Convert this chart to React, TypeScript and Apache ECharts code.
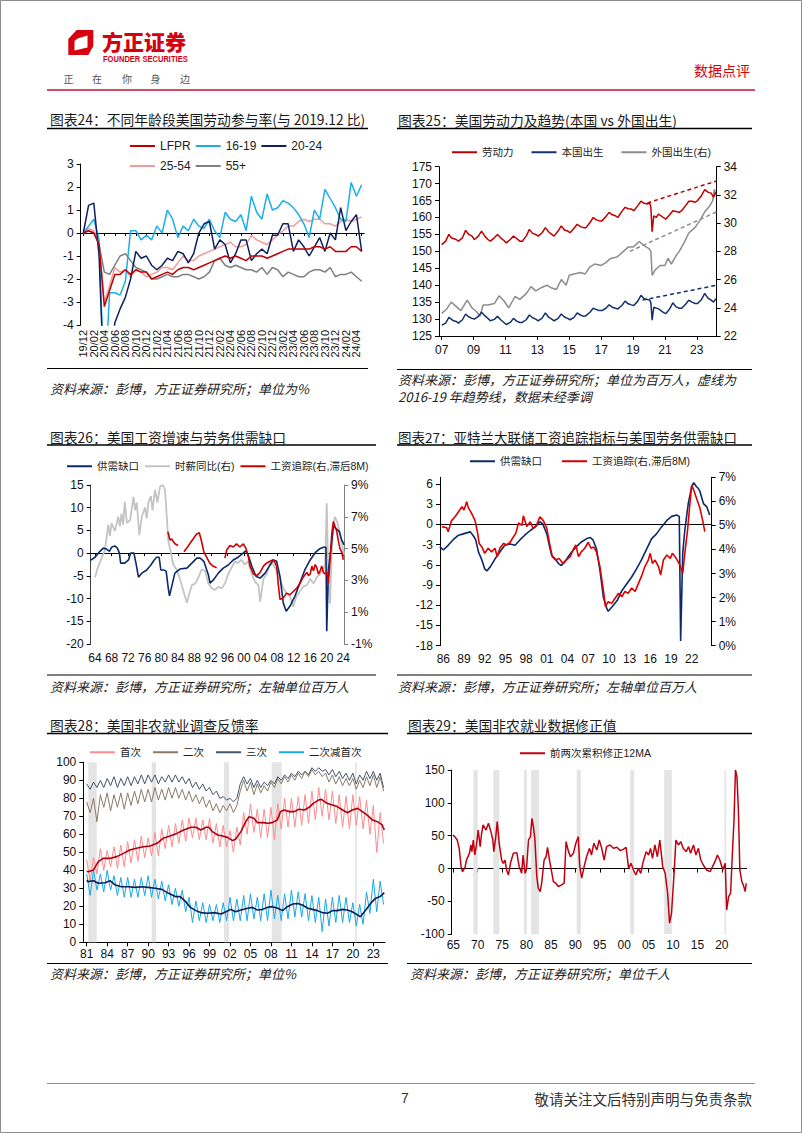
import React, { useEffect, useRef } from "react";
import * as echarts from "echarts";

// ---------------- Chart 24 ----------------
const c24Months = [
  "19/12",
  "20/01","20/02","20/03","20/04","20/05","20/06","20/07","20/08","20/09","20/10","20/11","20/12",
  "21/01","21/02","21/03","21/04","21/05","21/06","21/07","21/08","21/09","21/10","21/11","21/12",
  "22/01","22/02","22/03","22/04","22/05","22/06","22/07","22/08","22/09","22/10","22/11","22/12",
  "23/01","23/02","23/03","23/04","23/05","23/06","23/07","23/08","23/09","23/10","23/11","23/12",
  "24/01","24/02","24/03","24/04","24/05",
];
const c24LFPR = [0,
  0.1, 0, -0.5, -3.2, -2.5, -1.8, -1.8, -1.6, -1.8, -1.6, -1.7, -1.7,
  -2.0, -1.9, -1.8, -1.7, -1.8, -1.6, -1.5, -1.5, -1.6, -1.5, -1.4, -1.3,
  -1.2, -1.1, -1.0, -1.1, -1.0, -1.1, -1.2, -1.0, -1.0, -1.0, -1.1, -1.0,
  -0.9, -0.8, -0.7, -0.7, -0.7, -0.7, -0.7, -0.6, -0.6, -0.7, -0.6, -0.8,
  -0.8, -0.8, -0.6, -0.6, -0.8];
const c24Teen = [0,
  0.3, 0.6, -0.3, -7.0, -2.6, -2.6, -2.7, -2.1, 0.1, 0.1, -0.3, -0.1,
  -0.3, 0.3, 0.0, 1.0, 0.6, -0.2, 0.3, 0.1, 0.6, 0.3, 0.2, 0.6,
  0.1, -0.2, 0.9, 0.6, 0.5, 0.8, 0.1, 1.6, 0.9, 0.6, 1.7, 1.0,
  1.1, 1.4, 1.3, 1.1, 0.8, 0.4, -0.2, 1.0, 0.6, 1.9, 1.5, 1.1,
  0.6, 0.5, 2.2, 1.6, 2.1];
const c24Young = [0,
  1.2, 1.3, -1.0, -7.0, -6.0, -3.9, -3.3, -2.8, -2.0, -0.8, -1.1, -1.0,
  -1.4, -1.6, -1.4, -1.1, -1.2, -0.8, -0.9, -1.3, -0.9, 0.0, 0.4, 0.5,
  -0.7, -0.3, -0.5, -1.3, -0.9, -0.3, -0.3, -1.2, -0.9, -0.7, -0.9, -0.1,
  -0.1, 0.4, 0.4, -0.8, -0.3, -0.6, -1.0, -0.6, -0.2, -0.8, 0.0, -0.3,
  1.1, 0.1, 0.5, 0.8, -0.8];
const c24Prime = [0,
  0.2, 0.1, -0.5, -3.0, -2.3, -1.5, -1.7, -1.6, -1.9, -1.6, -1.7, -1.9,
  -1.8, -1.7, -1.5, -1.5, -1.6, -1.3, -1.0, -1.2, -1.2, -1.0, -0.9, -0.8,
  -0.7, -0.6, -0.5, -0.4, -0.6, -0.6, -0.5, -0.1, -0.3, -0.4, -0.5, -0.3,
  -0.1, 0.1, 0.3, 0.3, 0.5, 0.6, 0.5, 0.6, 0.6, 0.4, 0.4, 0.3,
  0.5, 0.6, 0.5, 0.6, 0.7];
const c24Old = [0,
  0.1, 0.0, -0.5, -1.7, -1.8, -1.4, -1.0, -0.9, -1.2, -1.5, -1.6, -1.7,
  -2.0, -2.0, -1.9, -1.8, -1.9, -1.9, -1.8, -1.8, -1.9, -2.0, -1.9, -1.7,
  -1.2, -1.1, -1.4, -1.5, -1.4, -1.5, -1.6, -1.6, -1.7, -1.5, -1.8, -1.5,
  -1.6, -1.9, -1.7, -1.8, -1.9, -1.9, -1.7, -1.6, -1.6, -1.7, -1.5, -1.9,
  -1.8, -1.8, -1.7, -1.9, -2.1];

// ---------------- Chart 25 ----------------
const c25Ticks = [2007, 2009, 2011, 2013, 2015, 2017, 2019, 2021, 2023];
const c25Labor = [
  [2007.0,152],[2007.25,153],[2007.45,155],[2007.6,154],[2007.9,153.5],
  [2008.05,153],[2008.3,154],[2008.5,156.2],[2008.7,155],[2008.9,154.5],
  [2009.05,153.5],[2009.3,154.5],[2009.5,156],[2009.7,154.5],[2009.9,153.5],
  [2010.05,153],[2010.3,154],[2010.5,155],[2010.7,154],[2010.9,153.2],
  [2011.05,152.5],[2011.3,153.5],[2011.5,154.5],[2011.7,153.8],[2011.9,153],
  [2012.05,153],[2012.3,154.5],[2012.5,156.5],[2012.7,155.3],[2012.9,155],
  [2013.05,154.5],[2013.3,155.5],[2013.5,157],[2013.7,155.8],[2013.9,155],
  [2014.05,154.5],[2014.3,156],[2014.5,157.5],[2014.7,156.3],[2014.9,156],
  [2015.05,155.5],[2015.3,156.8],[2015.5,158],[2015.7,157.3],[2015.9,157],
  [2016.05,157],[2016.3,158.5],[2016.5,160],[2016.7,159.3],[2016.9,159],
  [2017.05,159],[2017.3,160.3],[2017.5,161.5],[2017.7,160.8],[2017.9,160.5],
  [2018.05,160],[2018.3,161.8],[2018.5,163],[2018.7,162.6],[2018.9,162.5],
  [2019.05,162],[2019.3,163.5],[2019.5,164.8],[2019.7,164.2],[2019.9,164],
  [2020.05,164.3],[2020.12,163],[2020.2,155.8],[2020.3,160.5],[2020.45,160],[2020.6,161],[2020.9,160],
  [2021.05,159.5],[2021.3,160.8],[2021.5,162],[2021.7,161.8],[2021.9,161.5],
  [2022.05,162],[2022.3,163.5],[2022.5,164.8],[2022.7,164.8],[2022.9,164.5],
  [2023.05,165],[2023.3,166.5],[2023.5,168.2],[2023.7,167.5],[2023.9,167.2],
  [2024.05,166],[2024.2,167.5],
];
const c25Native = [
  [2007.0,128.2],[2007.25,128.8],[2007.45,130.5],[2007.7,129.6],[2007.9,129.3],
  [2008.05,128.8],[2008.3,129.8],[2008.5,131.5],[2008.7,130.6],[2008.9,130.2],
  [2009.05,130],[2009.3,130.8],[2009.5,132],[2009.7,131],[2009.9,130.2],
  [2010.05,129.5],[2010.3,129.9],[2010.5,130.8],[2010.7,129.8],[2010.9,129],
  [2011.05,128.4],[2011.3,129],[2011.5,130.2],[2011.7,129.4],[2011.9,129],
  [2012.05,129],[2012.3,129.8],[2012.5,131.2],[2012.7,130.4],[2012.9,130],
  [2013.05,129.5],[2013.3,130.3],[2013.5,131.8],[2013.7,130.6],[2013.9,130],
  [2014.05,129.5],[2014.3,130.2],[2014.5,131.5],[2014.7,130.6],[2014.9,130.2],
  [2015.05,129.8],[2015.3,130.5],[2015.5,131.8],[2015.7,131.2],[2015.9,130.8],
  [2016.05,131],[2016.3,132],[2016.5,133.2],[2016.7,132.8],[2016.9,132.5],
  [2017.05,132.5],[2017.3,133.2],[2017.5,134.2],[2017.7,133.5],[2017.9,133.2],
  [2018.05,133],[2018.3,134],[2018.5,135.3],[2018.7,134.5],[2018.9,134.2],
  [2019.05,134],[2019.3,135.3],[2019.5,137],[2019.7,136],[2019.9,135.8],
  [2020.05,135.6],[2020.12,134.8],[2020.2,129.7],[2020.3,133.5],[2020.6,133],[2020.9,132],
  [2021.05,131.6],[2021.3,133],[2021.5,134.8],[2021.7,133.6],[2021.9,133.2],
  [2022.05,133.2],[2022.3,134.4],[2022.5,135.6],[2022.7,135],[2022.9,134.6],
  [2023.05,134.6],[2023.3,135.8],[2023.5,137.6],[2023.7,136.2],[2023.9,135.6],
  [2024.05,135],[2024.2,136],
];
const c25Foreign = [
  [2007.0,23.6],[2007.3,23.9],[2007.6,24.4],[2007.9,24.1],
  [2008.2,23.8],[2008.6,24.55],[2008.9,24.0],
  [2009.2,23.7],[2009.4,23.4],[2009.6,24.2],[2009.9,24.2],
  [2010.3,24.3],[2010.6,24.85],[2010.9,24.5],
  [2011.2,24.0],[2011.6,24.8],[2011.9,24.6],
  [2012.3,25.0],[2012.6,25.5],[2012.9,25.2],
  [2013.2,25.4],[2013.6,25.6],[2013.9,25.4],
  [2014.2,25.3],[2014.5,26.0],[2014.8,25.6],
  [2015.0,26.3],[2015.3,26.4],[2015.7,26.5],
  [2016.0,26.4],[2016.3,26.9],[2016.6,27.1],
  [2017.0,27.0],[2017.3,27.2],[2017.6,27.5],
  [2018.0,27.6],[2018.4,28.0],[2018.7,28.3],
  [2019.0,28.3],[2019.4,28.7],[2019.7,28.4],
  [2020.0,28.2],[2020.12,28.0],[2020.2,26.3],[2020.4,26.7],[2020.7,27.0],
  [2021.0,27.0],[2021.2,27.5],[2021.4,27.1],[2021.7,27.7],[2021.9,28.0],
  [2022.2,28.6],[2022.5,29.3],[2022.9,29.7],
  [2023.2,30.2],[2023.5,30.8],[2023.8,31.2],
  [2024.0,31.6],[2024.1,32.4],[2024.2,32.0],
];
const c25LaborTrend = [[2019.9,164.3],[2024.25,170.8]];
const c25NativeTrend = [[2019.6,135.6],[2024.25,140]];
const c25ForeignTrend = [[2018.8,28.0],[2024.25,30.8]];

// ---------------- Chart 26 ----------------
const c26Ticks = [1964,1968,1972,1976,1980,1984,1988,1992,1996,2000,2004,2008,2012,2016,2020,2024];
const c26Gap = [
  [1962.9,-1.6],[1964.0,-0.9],[1965.2,0.4],[1966.0,1.1],[1966.8,0.9],[1967.5,0.4],[1968.0,1.3],[1968.8,1.6],
  [1969.4,1.1],[1969.9,0],[1970.2,-2.2],[1971.2,-2.2],[1972.1,-1.5],[1972.6,0],[1973.4,0],[1973.9,-2.2],
  [1974.5,-5.3],[1975.3,-4.4],[1976.5,-3.7],[1977.5,-2.6],[1978.3,-1.5],[1978.9,-0.9],[1979.5,-0.9],[1979.9,-3.7],
  [1980.7,-3.7],[1981.2,-4.0],[1981.7,-7.7],[1982.0,-9.4],[1983.3,-4.4],[1984.5,-3.5],[1986.2,-3.3],[1987.4,-2.2],
  [1988.6,-1.1],[1989.4,-1.1],[1990.3,-1.8],[1991.4,-4.8],[1991.8,-6.6],[1992.6,-5.9],[1993.8,-4.4],[1995.0,-3.3],
  [1996.2,-2.6],[1997.4,-1.5],[1998.6,-0.9],[1999.8,0],[2000.4,0.5],[2001.0,-0.4],[2001.9,-2.9],[2002.9,-5.1],
  [2003.9,-5.5],[2005.1,-4.4],[2006.3,-2.6],[2007.1,-1.5],[2007.9,-1.8],[2008.7,-5.1],[2009.5,-11],[2010.2,-12.8],
  [2011.1,-11.7],[2012.3,-9.5],[2013.5,-6.6],[2014.7,-3.7],[2016.0,-1.5],[2017.2,0.1],[2018.2,0.9],[2019.2,1.3],
  [2019.8,1.3],[2020.0,-17.2],[2020.4,-3.7],[2021.0,0.7],[2021.6,5.9],[2022.4,5.3],[2023.0,4.8],[2023.6,2.9],[2024.2,1.8],
];
const c26Wage = [
  [1964.0,3.2],[1964.8,3.9],[1965.6,4.4],[1966.4,4.9],[1967.2,6.5],[1967.6,5.8],[1968.0,6.6],[1968.8,6.1],
  [1969.6,7.0],[1970.0,6.4],[1970.4,7.2],[1970.8,6.5],[1971.2,7.95],[1971.7,6.6],[1972.5,6.8],[1973.3,8.26],
  [1973.7,7.4],[1974.1,7.9],[1974.7,5.85],[1975.3,7.0],[1976.1,7.6],[1976.5,6.9],[1976.9,7.9],[1977.5,8.3],
  [1977.9,7.4],[1978.5,8.7],[1979.1,7.9],[1979.7,8.9],[1980.4,9.0],[1980.9,8.7],[1981.3,7.2],[1981.7,5.5],
  [1982.3,4.8],[1982.9,4.0],[1983.7,3.7],[1984.5,3.1],[1985.3,2.4],[1986.2,1.6],[1986.6,2.0],[1987.4,2.7],
  [1988.2,2.8],[1989.0,3.2],[1989.8,3.7],[1990.6,3.6],[1991.4,2.8],[1992.2,2.5],[1993.0,2.4],[1993.8,2.6],
  [1994.6,2.5],[1995.4,2.8],[1996.2,3.4],[1997.0,3.8],[1997.8,4.2],[1998.6,4.1],[1999.4,4.3],[2000.2,4.0],
  [2001.0,4.2],[2001.9,3.4],[2002.7,2.9],[2003.5,2.7],[2003.9,1.66],[2004.7,3.1],[2005.5,3.4],[2006.3,4.1],
  [2007.1,4.0],[2007.9,3.6],[2008.7,3.1],[2009.5,2.5],[2010.3,2.2],[2011.1,2.0],[2011.9,1.35],[2012.7,2.0],
  [2013.5,2.3],[2014.3,2.6],[2015.2,2.7],[2016.0,3.1],[2016.8,2.8],[2017.6,3.2],[2018.4,3.4],[2019.2,3.7],
  [2019.6,4.0],[2020.0,7.85],[2020.4,2.8],[2020.8,1.55],[2021.2,4.7],[2021.6,6.6],[2022.0,7.0],[2022.6,6.6],
  [2023.2,6.0],[2023.6,5.4],[2024.2,4.6],
];
const c26Tracker = [
  [1981.6,6.07],[1982.1,5.54],[1982.5,5.6],[1983.3,5.3],[1984.1,5.2],[1984.2,null],
  [1985.5,4.8],[1986.1,5.0],[1986.9,5.3],[1987.7,5.6],[1988.5,5.9],[1989.2,6.0],[1989.8,5.4],[1990.3,4.8],
  [1990.9,4.5],[1991.7,4.1],[1992.5,3.9],[1993.4,3.8],[1993.5,null],
  [1995.4,4.4],[1995.8,4.9],[1996.6,5.2],[1997.4,5.1],[1998.2,5.3],[1999.0,5.1],[1999.85,5.3],[2000.5,5.0],
  [2001.05,4.5],[2001.46,3.9],[2002.3,3.4],[2003.1,3.3],[2003.9,3.5],[2004.7,3.9],[2005.5,4.1],[2006.3,4.2],
  [2007.1,4.3],[2007.9,3.9],[2008.3,2.7],[2008.7,1.8],[2009.5,1.9],[2010.3,2.2],[2011.1,2.1],[2011.9,2.3],
  [2012.7,2.5],[2013.5,2.8],[2014.3,3.2],[2015.2,3.5],[2015.6,3.3],[2016.0,3.4],[2016.4,3.9],[2016.8,3.6],
  [2017.2,4.0],[2017.6,3.8],[2018.0,3.4],[2018.4,3.6],[2018.8,3.9],[2019.2,3.5],[2019.6,3.4],[2020.0,3.5],
  [2020.4,2.8],[2020.8,4.3],[2021.2,5.9],[2021.6,6.7],[2022.0,6.4],[2022.4,6.1],[2022.8,5.5],[2023.2,5.0],
  [2023.6,4.8],[2024.0,4.3],
];

// ---------------- Chart 27 ----------------
const c27Ticks = [1986,1989,1992,1995,1998,2001,2004,2007,2010,2013,2016,2019,2022];
const c27Gap = [
  [1985.5,-3.3],[1986.0,-3.8],[1986.7,-3.1],[1987.4,-2.3],[1988.2,-1.6],[1988.9,-1.4],[1989.9,-1.1],[1990.3,-1.6],
  [1990.7,-2.3],[1991.1,-4.1],[1991.6,-5.3],[1992.0,-6.6],[1992.3,-6.9],[1992.8,-6.3],[1993.5,-5.1],[1994.2,-4.1],
  [1994.9,-3.1],[1995.7,-2.9],[1996.4,-3.1],[1997.1,-2.3],[1997.8,-1.6],[1998.6,-0.9],[1999.3,-0.4],[2000.0,0.4],
  [2000.4,0.1],[2001.0,-1.4],[2001.4,-3.3],[2001.7,-4.6],[2002.2,-5.1],[2002.7,-5.8],[2003.1,-6.1],[2003.6,-5.6],
  [2004.1,-4.8],[2004.6,-4.1],[2005.3,-3.3],[2006.0,-2.6],[2006.8,-2.1],[2007.3,-1.95],[2007.7,-2.3],[2008.2,-3.6],
  [2008.7,-6.8],[2009.2,-10.8],[2009.7,-12.5],[2009.9,-12.9],[2010.4,-12.3],[2011.2,-11.3],[2011.9,-9.8],[2012.6,-8.8],
  [2013.3,-7.8],[2014.0,-6.6],[2014.7,-5.3],[2015.5,-3.6],[2016.2,-2.1],[2016.9,-1.4],[2017.6,-0.4],[2018.4,0.6],
  [2019.1,1.2],[2019.8,1.4],[2020.2,1.2],[2020.4,-17.3],[2020.7,-4.3],[2021.0,-0.9],[2021.5,3.1],[2022.0,5.6],
  [2022.3,6.2],[2022.7,5.6],[2023.0,5.3],[2023.2,4.9],[2023.7,3.1],[2024.2,2.6],[2024.6,1.4],
];
const c27Tracker = [
  [1985.8,4.95],[1986.5,4.9],[1986.7,4.74],[1987.2,5.2],[1987.7,5.36],[1988.2,5.57],[1988.7,5.78],[1989.0,5.64],
  [1989.4,5.99],[1989.6,5.75],[1990.1,5.5],[1990.6,5.2],[1990.9,4.8],[1991.2,4.25],[1991.6,4.1],[1992.0,3.84],
  [1992.5,4.05],[1993.0,3.9],[1993.5,4.05],[1993.8,3.7],[1994.2,4.05],[1994.7,4.25],[1995.2,4.2],[1995.7,4.3],
  [1996.1,4.5],[1996.5,4.67],[1996.9,5.1],[1997.4,5.0],[1997.6,5.4],[1998.1,4.95],[1998.6,5.15],[1999.0,4.88],
  [1999.5,5.0],[2000.0,5.36],[2000.5,5.2],[2001.0,4.88],[2001.4,4.25],[2001.8,3.7],[2002.3,3.56],[2002.8,3.63],
  [2003.3,3.42],[2003.8,3.56],[2004.4,3.7],[2004.8,3.98],[2005.2,4.19],[2005.6,3.7],[2006.0,3.9],[2006.5,4.05],
  [2007.0,4.3],[2007.4,4.05],[2007.8,4.1],[2008.2,3.9],[2008.7,3.28],[2009.2,2.3],[2009.5,1.62],[2009.9,1.83],
  [2010.4,1.76],[2010.9,1.97],[2011.4,2.18],[2011.9,2.04],[2012.3,2.25],[2012.8,2.18],[2013.3,2.4],[2013.8,2.25],
  [2014.3,2.6],[2014.7,2.87],[2015.2,3.28],[2015.7,3.56],[2016.0,3.84],[2016.3,3.42],[2016.7,3.56],[2017.2,3.28],
  [2017.5,2.94],[2017.9,3.56],[2018.4,3.77],[2018.9,3.63],[2019.2,3.84],[2019.6,3.7],[2019.9,3.56],[2020.3,3.35],
  [2020.7,3.0],[2021.0,3.84],[2021.4,4.8],[2021.7,5.78],[2022.0,6.68],[2022.3,6.47],[2022.7,6.13],[2023.2,5.71],
  [2023.6,5.2],[2023.9,4.74],
];

// ---------------- Chart 28 ----------------
const c28Ticks = [1981,1984,1987,1990,1993,1996,1999,2002,2005,2008,2011,2014,2017,2020,2023];
const c28Start = 1981;
const c28Step = 0.5;
const c28First = [
  46,34,47,38,52,40,51,42,53,41,54,42,56,44,57,45,59,47,58,48,61,48,63,52,65,53,66,55,68,56,
  69,58,69,57,68,57,69,55,66,53,65,53,62,50,64,54,72,60,77,61,74,58,74,58,75,57,77,63,80,64,
  80,64,81,65,82,66,84,68,86,70,85,68,84,66,82,64,81,63,82,65,81,63,79,60,76,50,72,55,
];
const c28Second = [
  78,72,80,67,82,75,83,73,82,75,83,74,83,76,84,77,85,78,85,78,86,79,85,79,86,80,86,80,85,79,
  84,78,82,77,81,75,79,73,77,72,76,73,77,72,76,84,90,84,89,82,88,83,87,84,89,86,91,88,92,89,
  93,90,94,91,95,92,96,93,95,92,94,89,93,88,92,87,91,87,91,85,90,86,92,87,93,86,92,84,
];
const c28Third = [
  88,85,89,86,90,86,91,87,92,86,91,87,92,87,92,88,93,88,93,89,93,88,92,89,93,89,93,89,92,88,
  91,86,89,85,88,84,86,82,84,80,81,79,80,78,80,88,92,88,91,86,90,86,89,87,90,88,92,90,93,91,
  94,92,95,93,95,93,97,95,97,95,96,93,96,92,95,91,94,90,94,88,93,90,95,91,95,90,94,86,
];
const c28Diff = [
  38,26,40,29,38,28,40,29,37,26,36,25,36,25,35,25,36,26,37,25,35,24,34,23,32,21,30,20,29,17,
  25,11,23,12,22,11,21,12,21,11,22,12,25,12,24,12,26,12,27,13,25,12,27,12,29,13,26,12,27,13,
  29,14,28,14,27,12,26,11,25,6,24,9,25,11,26,11,25,11,22,9,21,10,28,16,35,17,34,21,
];
const c28FirstMA = [
  [1981.0,39.5],[1981.2,39.2],[1982.0,40.2],[1982.7,44.8],[1983.4,46.6],[1984.4,46.6],[1985.4,47.6],[1986.4,49.4],
  [1987.3,51.3],[1988.3,52.2],[1989.3,53.1],[1990.3,53.5],[1991.3,55],[1992.2,57.8],[1993.2,59.1],[1994.2,60.5],
  [1995.2,62.4],[1996.3,63.9],[1997.0,63.9],[1997.7,62.4],[1998.5,63.9],[1998.9,63.9],[1999.4,61.5],[2000.2,59.6],
  [2000.9,59.1],[2001.6,58.3],[2002.4,56.5],[2002.8,57.2],[2003.6,61.5],[2004.3,67],[2004.8,69.8],[2005.5,68.9],
  [2006.0,66.5],[2006.8,66.5],[2007.5,66.1],[2008.2,66.5],[2008.9,67.9],[2009.4,72.6],[2009.9,73.5],[2010.7,72.6],
  [2011.4,72.6],[2012.1,73.9],[2012.9,73.5],[2013.6,75],[2014.2,77.2],[2015.0,79.1],[2015.4,79.4],[2016.2,77.2],
  [2017.0,76.3],[2017.7,75.4],[2018.5,73.5],[2019.2,72],[2019.9,73.5],[2020.7,74.4],[2021.4,72.6],[2022.1,70.7],
  [2022.9,67.9],[2023.6,67],[2024.3,65.2],[2024.6,62.4],
];
const c28DiffMA = [
  [1981.0,34.5],[1981.2,33.7],[1982.0,34.2],[1982.7,32.8],[1983.7,33.1],[1984.4,34.2],[1985.2,31.8],[1986.1,30.9],
  [1987.1,30.9],[1988.1,30.5],[1989.1,30.9],[1990.0,30.5],[1991.0,30],[1992.0,29.4],[1993.0,27.2],[1994.0,25.4],
  [1994.7,25.4],[1995.5,22.6],[1996.2,19.4],[1997.0,17.6],[1997.7,16.5],[1998.7,16.1],[1999.7,16.5],[2000.7,15.7],
  [2001.4,17],[2002.1,18.3],[2002.8,17],[2003.6,17.9],[2004.6,18.9],[2005.3,19.4],[2006.0,17.9],[2006.8,18.3],
  [2007.5,19.4],[2008.2,19.8],[2009.0,18.9],[2009.7,17.6],[2010.4,19.8],[2011.2,21.3],[2011.9,21.6],[2012.6,20.7],
  [2013.4,18.9],[2014.1,18.3],[2014.8,17.6],[2015.5,16.5],[2016.3,16.1],[2017.0,17.6],[2017.7,17.6],[2018.5,18.3],
  [2019.2,17.9],[2019.9,17],[2020.7,15.2],[2021.1,14.2],[2021.9,17.9],[2022.6,21.6],[2023.3,24.4],[2024.0,25.4],[2024.6,27.6],
];
const c28Recessions = [[1981.23,1982.47],[1990.52,1991.15],[2001.12,2001.85],[2008.11,2009.57],[2020.31,2020.56]];

// ---------------- Chart 29 ----------------
const c29Ticks = [1965,1970,1975,1980,1985,1990,1995,2000,2005,2010,2015,2020];
const c29Rev = [
  [1964.9,51],[1965.3,48.6],[1965.8,43.5],[1966.2,30.8],[1966.6,2.9],[1966.9,-4.7],[1967.4,1.9],[1967.7,13],
  [1968.3,23.2],[1968.6,35.9],[1968.8,25.8],[1969.1,43.5],[1969.4,20.7],[1969.8,38.5],[1970.1,58.7],[1970.5,33.4],
  [1970.8,53.7],[1971.1,66.4],[1971.7,58.7],[1972.2,68.9],[1972.7,56.2],[1973.1,43.5],[1973.3,25.8],[1973.7,48.6],
  [1974.0,71.4],[1974.4,38.5],[1974.9,13],[1975.2,8],[1975.6,13],[1975.9,-2.1],[1976.3,-9.7],[1976.7,8],
  [1977.3,23.2],[1978.0,24.3],[1978.5,2.9],[1979.0,-7.2],[1979.3,20.7],[1979.7,-7.2],[1980.0,0.4],[1980.4,43.5],
  [1980.8,48.6],[1981.1,76.5],[1981.4,63.8],[1981.7,46],[1982.1,-12.1],[1982.4,-29.9],[1982.8,-35],[1983.1,-22.3],
  [1983.6,13],[1984.0,18],[1984.3,32.4],[1984.7,13],[1985.2,-7.2],[1985.5,-19.7],[1986.0,-22.3],[1986.5,-27.3],
  [1987.2,-24.8],[1987.7,-22.3],[1988.1,41],[1988.6,25.8],[1989.0,18],[1989.6,23.2],[1990.1,38.5],[1990.6,48.6],
  [1990.9,2.9],[1991.3,-14.6],[1991.8,2.9],[1992.3,18],[1992.9,30.8],[1993.3,20.7],[1993.8,38.5],[1994.4,28.3],
  [1994.9,43.5],[1995.4,30.8],[1995.9,13],[1996.4,33.4],[1997.1,35.9],[1997.8,30.8],[1998.5,32.4],[1999.2,27.3],
  [1999.8,29.3],[2000.4,32.4],[2000.9,0.4],[2001.4,8],[2001.9,-2.1],[2002.4,-9.7],[2002.9,0.4],[2003.4,-7.2],
  [2003.9,10.5],[2004.5,25.8],[2005.0,20.7],[2005.4,30.8],[2005.8,15.6],[2006.3,35.9],[2006.8,18],[2007.3,43.5],
  [2007.9,2.9],[2008.4,-7.2],[2008.9,-37.4],[2009.3,-83],[2009.7,-68],[2010.2,-9.7],[2010.6,43.5],[2011.1,35.9],
  [2011.6,41],[2012.1,30.8],[2012.7,25.8],[2013.2,33.4],[2013.6,23.2],[2014.2,35.9],[2014.7,20.7],[2015.2,30.8],
  [2015.7,13],[2016.2,5.5],[2016.9,-2.1],[2017.6,-4.7],[2018.1,2.9],[2018.6,10.5],[2019.1,20.7],[2019.6,13],
  [2020.2,-2.1],[2020.7,8],[2021.0,-63],[2021.4,-42.5],[2021.8,-37.4],[2022.2,28.3],[2022.5,73.9],[2022.8,150],
  [2023.1,140],[2023.4,89],[2023.7,-2.1],[2024.1,-19.7],[2024.4,-24.8],[2024.8,-35],[2025.0,-22.3],
];
const c29Recessions = [
  [1969.1,1970.0],[1973.2,1974.43],[1979.49,1980.04],[1980.93,1982.57],
  [1990.29,1991.11],[2001.22,2002.04],[2008.19,2009.76],[2020.54,2020.9],
];

// ---------------- helpers ----------------
const LATIN = "'Liberation Sans', Arial, 'Noto Sans CJK SC', sans-serif";
const CJK = "'Noto Sans CJK SC', 'Liberation Sans', sans-serif";

const yy = (v: number) => {
  const n = Math.round(v) % 100;
  return (n < 10 ? "0" : "") + n;
};

const line = (name: string, data: any[], color: string, xi: number, yi: number, width = 1.5, extra: any = {}) => ({
  type: "line",
  name,
  data,
  xAxisIndex: xi,
  yAxisIndex: yi,
  symbol: "none",
  showSymbol: false,
  color,
  lineStyle: { color, width },
  emphasis: { disabled: true },
  ...extra,
});

const recession = (data: number[][], xi: number, yi: number) => ({
  type: "custom",
  name: "recession" + xi,
  xAxisIndex: xi,
  yAxisIndex: yi,
  silent: true,
  z: 1,
  data,
  encode: { x: [0, 1] },
  renderItem: (params: any, api: any) => {
    const cs = params.coordSys;
    const x1 = api.coord([api.value(0), 0])[0];
    const x2 = api.coord([api.value(1), 0])[0];
    return {
      type: "rect",
      shape: { x: x1, y: cs.y, width: Math.max(1, x2 - x1), height: cs.height },
      style: { fill: "#E4E4E4" },
    };
  },
});

const yAxisBase = (gridIndex: number, min: number, max: number, interval: number, extra: any = {}) => ({
  type: "value",
  gridIndex,
  min,
  max,
  interval,
  splitLine: { show: false },
  axisLine: { show: true, onZero: false, lineStyle: { color: "#000", width: 1 } },
  axisTick: { show: true, length: 4, lineStyle: { color: "#000" } },
  axisLabel: { fontSize: 12, color: "#111", margin: 7, fontFamily: LATIN },
  ...extra,
});

const xTimeAxis = (gridIndex: number, min: number, max: number, ticks: number[], extra: any = {}) => ({
  type: "value",
  gridIndex,
  min,
  max,
  splitLine: { show: false },
  axisLine: { show: true, lineStyle: { color: "#000", width: 1 } },
  axisTick: { show: true, length: 4, customValues: ticks, lineStyle: { color: "#000" } },
  axisLabel: { customValues: ticks, formatter: yy, fontSize: 12, color: "#111", margin: 7, fontFamily: LATIN },
  ...extra,
});

const legendBase = (names: string[], left: number, top: number, gap: number, fontSize = 10.5) => ({
  data: names,
  left,
  top,
  padding: 0,
  itemGap: gap,
  itemWidth: 25,
  itemHeight: 2,
  icon: "rect",
  selectedMode: false,
  orient: "horizontal",
  textStyle: { fontSize, color: "#222", fontFamily: LATIN },
});

const txt = (text: string, x: number, y: number, o: any = {}) => ({
  type: "text",
  x,
  y,
  silent: true,
  style: {
    text,
    fontSize: o.fontSize ?? 13.5,
    fontFamily: o.fontFamily ?? CJK,
    fontWeight: o.fontWeight ?? "normal",
    fontStyle: o.fontStyle ?? "normal",
    fill: o.fill ?? "#1a1a1a",
    textAlign: o.align ?? "left",
    align: o.align ?? "left",
    textVerticalAlign: "middle",
    verticalAlign: "middle",
  },
  ...(o.scaleX ? { scaleX: o.scaleX } : {}),
});

const hline = (x1: number, x2: number, y: number, color = "#000", w = 1) => ({
  type: "line",
  silent: true,
  shape: { x1, y1: y, x2, y2: y },
  style: { stroke: color, lineWidth: w },
});

function buildOption(): any {
  const grid = [
    { left: 80.7, top: 164, width: 283.6, height: 161 },
    { left: 439, top: 166.7, width: 277.7, height: 169.3 },
    { left: 90.7, top: 485, width: 253.3, height: 159 },
    { left: 440, top: 477.3, width: 271.7, height: 168.4 },
    { left: 83.3, top: 762.3, width: 301.7, height: 180 },
    { left: 451.7, top: 770, width: 295, height: 164.3 },
  ];

  const xAxis = [
    {
      type: "category",
      gridIndex: 0,
      data: c24Months,
      boundaryGap: true,
      axisLine: { show: true, onZero: true, lineStyle: { color: "#000", width: 1 } },
      axisTick: { show: true, interval: 1, length: 3, alignWithLabel: true, lineStyle: { color: "#000" } },
      axisLabel: {
        interval: 0,
        rotate: 90,
        margin: 5,
        fontSize: 11,
        color: "#111",
        fontFamily: LATIN,
        formatter: (value: string, index: number) => (index % 2 === 0 ? value : ""),
      },
    },
    xTimeAxis(1, 2006.83, 2024.25, c25Ticks, { axisLabel: { customValues: c25Ticks, formatter: yy, fontSize: 12, color: "#111", margin: 8, fontFamily: LATIN } }),
    xTimeAxis(2, 1962.96, 2024.17, c26Ticks, {
      axisLine: { show: true, onZero: true, onZeroAxisIndex: 3, lineStyle: { color: "#000", width: 1 } },
      axisTick: { show: true, length: 3, customValues: c26Ticks, lineStyle: { color: "#000" } },
      axisLabel: { customValues: c26Ticks, formatter: yy, fontSize: 12, color: "#111", margin: 8, fontFamily: LATIN },
    }),
    xTimeAxis(3, 1985.52, 2024.9, c27Ticks, {
      axisLine: { show: true, onZero: true, onZeroAxisIndex: 5, lineStyle: { color: "#000", width: 1 } },
      axisTick: { show: false, customValues: c27Ticks },
      axisLabel: { customValues: c27Ticks, formatter: yy, fontSize: 12, color: "#111", margin: 7, fontFamily: LATIN },
    }),
    xTimeAxis(4, 1980.5, 2024.71, c28Ticks, { axisLabel: { customValues: c28Ticks, formatter: yy, fontSize: 12, color: "#111", margin: 6, fontFamily: LATIN } }),
    xTimeAxis(5, 1964.67, 2025.1, c29Ticks, {
      axisLine: { show: true, onZero: true, onZeroAxisIndex: 8, lineStyle: { color: "#000", width: 1 } },
      axisTick: { show: true, length: 4, customValues: c29Ticks, lineStyle: { color: "#000" } },
      axisLabel: { customValues: c29Ticks, formatter: yy, fontSize: 12, color: "#111", margin: 5, fontFamily: LATIN },
    }),
  ];

  const yAxis = [
    yAxisBase(0, -4, 3, 1),
    yAxisBase(1, 125, 175, 5),
    yAxisBase(1, 22, 34, 2, { position: "right" }),
    yAxisBase(2, -20, 15, 5, { axisLine: { show: true, onZero: false, lineStyle: { color: "#404040" } } }),
    yAxisBase(2, -1, 9, 2, {
      position: "right",
      axisLine: { show: true, onZero: false, lineStyle: { color: "#7f7f7f" } },
      axisTick: { show: true, length: 4, lineStyle: { color: "#7f7f7f" } },
      axisLabel: { fontSize: 12, color: "#111", margin: 7, fontFamily: LATIN, formatter: "{value}%" },
    }),
    yAxisBase(3, -18, 7, 3, { axisLabel: { fontSize: 12, color: "#111", margin: 7, fontFamily: LATIN, showMaxLabel: false } }),
    yAxisBase(3, 0, 7, 1, {
      position: "right",
      axisLabel: { fontSize: 12, color: "#111", margin: 7, fontFamily: LATIN, formatter: "{value}%" },
    }),
    yAxisBase(4, 0, 100, 10),
    yAxisBase(5, -100, 150, 50),
  ];

  const NAVY = "#0B2A6B";
  const RED = "#C00000";

  const series: any[] = [
    // chart 24
    line("55+", c24Old, "#7F7F7F", 0, 0),
    line("25-54", c24Prime, "#F59A9A", 0, 0),
    line("16-19", c24Teen, "#1AAFEA", 0, 0),
    line("20-24", c24Young, "#0D2160", 0, 0),
    line("LFPR", c24LFPR, RED, 0, 0),
    // chart 25
    line("外国出生(右)", c25Foreign, "#8C8C8C", 1, 2),
    line("外国出生趋势", c25ForeignTrend, "#8C8C8C", 1, 2, 1.5, { lineStyle: { color: "#8C8C8C", width: 1.5, type: [4, 3] } }),
    line("劳动力", c25Labor, RED, 1, 1),
    line("劳动力趋势", c25LaborTrend, RED, 1, 1, 1.5, { lineStyle: { color: RED, width: 1.5, type: [4, 3] } }),
    line("本国出生", c25Native, "#14306E", 1, 1),
    line("本国出生趋势", c25NativeTrend, "#14306E", 1, 1, 1.5, { lineStyle: { color: "#14306E", width: 1.5, type: [4, 3] } }),
    // chart 26
    line("时薪同比(右)", c26Wage, "#C4C4C4", 2, 4, 1.8),
    line("供需缺口", c26Gap, NAVY, 2, 3, 1.6),
    line("工资追踪(右,滞后8M)", c26Tracker, "#D00000", 2, 4, 1.6),
    // chart 27
    line("供需缺口", c27Gap, NAVY, 3, 5, 1.6),
    line("工资追踪(右,滞后8M)", c27Tracker, "#E00000", 3, 6, 1.6),
    // chart 28
    recession(c28Recessions, 4, 7),
    line("三次", c28Third.map((v, i) => [c28Start + i * c28Step, v]), "#44546A", 4, 7, 1),
    line("二次", c28Second.map((v, i) => [c28Start + i * c28Step, v]), "#8A7A68", 4, 7, 1),
    line("首次", c28First.map((v, i) => [c28Start + i * c28Step, v]), "#FF8A8C", 4, 7, 1),
    line("二次减首次", c28Diff.map((v, i) => [c28Start + i * c28Step, v]), "#18A8E6", 4, 7, 1),
    line("首次MA", c28FirstMA, "#B00010", 4, 7, 1.6),
    line("二次减首次MA", c28DiffMA, "#0A1F5C", 4, 7, 1.6),
    // chart 29
    recession(c29Recessions, 5, 8),
    line("前两次累积修正12MA", c29Rev, "#C0000F", 5, 8, 1.5),
  ];

  const legend = [
    legendBase(["LFPR", "16-19", "20-24"], 130, 140, 5, 12),
    legendBase(["25-54", "55+"], 130, 160, 5, 12),
    legendBase(["劳动力", "本国出生", "外国出生(右)"], 452, 147, 18),
    legendBase(["供需缺口", "时薪同比(右)", "工资追踪(右,滞后8M)"], 67, 461, 6),
    legendBase(["供需缺口", "工资追踪(右,滞后8M)"], 470, 456, 20),
    legendBase(["首次", "二次", "三次", "二次减首次"], 90, 747, 12),
    legendBase(["前两次累积修正12MA"], 520, 748, 10),
  ];

  const LOGO_RED = "#D7000F";
  const srcStyle = { fontSize: 13, fontStyle: "italic", fill: "#222" };

  const graphic = [
    {
      type: "rect",
      silent: true,
      shape: { x: 0.5, y: 0.5, width: 801, height: 1132 },
      style: { fill: "none", stroke: "#8c8c8c", lineWidth: 1 },
      z: 100,
    },
    // logo
    {
      type: "polygon",
      silent: true,
      shape: { points: [[76.7, 30], [93.3, 30], [93.3, 46], [88.3, 55], [68.3, 55], [68.3, 39]] },
      style: { fill: LOGO_RED },
    },
    {
      type: "polygon",
      silent: true,
      shape: { points: [[77.5, 38.5], [87.5, 35.5], [87.5, 47.5], [74.5, 50.5], [74.5, 41]] },
      style: { fill: "#fff" },
    },
    txt("方正证券", 102, 40.5, { fontSize: 21, fontWeight: 900, fill: LOGO_RED }),
    txt("FOUNDER SECURITIES", 103, 59, { fontSize: 9, fontWeight: "bold", fontFamily: LATIN, fill: LOGO_RED, scaleX: 0.84 }),
    txt("正", 68.5, 78, { fontSize: 10, fill: "#555", align: "center" }),
    txt("在", 97, 78, { fontSize: 10, fill: "#555", align: "center" }),
    txt("你", 127, 78, { fontSize: 10, fill: "#555", align: "center" }),
    txt("身", 155.5, 78, { fontSize: 10, fill: "#555", align: "center" }),
    txt("边", 185, 78, { fontSize: 10, fill: "#555", align: "center" }),
    txt("数据点评", 694, 70, { fontSize: 14, fill: LOGO_RED }),
    hline(47, 755, 90, "#C8102E", 1.3),
    // titles
    txt("图表24：不同年龄段美国劳动参与率(与 2019.12 比)", 50, 119, { fontSize: 13.8 }),
    hline(47, 368, 128.5, "#000", 1.5),
    txt("图表25：美国劳动力及趋势(本国 vs 外国出生)", 398, 119.5, { fontSize: 13.8 }),
    hline(397, 752, 128.5, "#000", 1.5),
    txt("图表26：美国工资增速与劳务供需缺口", 50, 436.5, { fontSize: 13.8 }),
    hline(47, 376, 445, "#000", 1.5),
    txt("图表27：亚特兰大联储工资追踪指标与美国劳务供需缺口", 398, 436.5, { fontSize: 13.5 }),
    hline(397, 752, 445, "#000", 1.5),
    txt("图表28：美国非农就业调查反馈率", 50, 725, { fontSize: 13.8 }),
    hline(47, 388, 733.5, "#000", 1.5),
    txt("图表29：美国非农就业数据修正值", 408, 725, { fontSize: 13.8 }),
    hline(407, 752, 733.5, "#000", 1.5),
    // sources
    hline(47, 368, 368.5, "#000", 1),
    txt("资料来源：彭博，方正证券研究所；单位为%", 50, 388, srcStyle),
    hline(397, 752, 369.5, "#000", 1),
    txt("资料来源：彭博，方正证券研究所；单位为百万人，虚线为", 398, 379, srcStyle),
    txt("2016-19 年趋势线，数据未经季调", 398, 396.5, srcStyle),
    hline(47, 376, 675, "#000", 1),
    txt("资料来源：彭博，方正证券研究所；左轴单位百万人", 50, 686, srcStyle),
    hline(397, 752, 675, "#000", 1),
    txt("资料来源：彭博，方正证券研究所；左轴单位百万人", 398, 686.5, srcStyle),
    hline(47, 388, 963.5, "#000", 1),
    txt("资料来源：彭博，方正证券研究所；单位%", 50, 973.5, srcStyle),
    hline(407, 752, 963.5, "#000", 1),
    txt("资料来源：彭博，方正证券研究所；单位千人", 410, 973.5, srcStyle),
    // footer
    hline(47, 755, 1083.5, "#E0707F", 1),
    txt("7", 405, 1098, { fontSize: 14, fill: "#333", align: "center", fontFamily: LATIN }),
    txt("敬请关注文后特别声明与免责条款", 752, 1098, { fontSize: 14.5, fill: "#333", align: "right" }),
  ];

  return {
    animation: false,
    backgroundColor: "#fff",
    textStyle: { fontFamily: LATIN },
    grid,
    xAxis,
    yAxis,
    legend,
    series,
    graphic,
  };
}

export default function App() {
  const ref = useRef<HTMLDivElement>(null);
  useEffect(() => {
    if (!ref.current) return;
    const chart = echarts.init(ref.current, undefined, { renderer: "svg", width: 802, height: 1133 });
    chart.setOption(buildOption());
    return () => {
      chart.dispose();
    };
  }, []);
  return (
    <div
      ref={ref}
      style={{ position: "fixed", left: 0, top: 0, width: 802, height: 1133, background: "#fff" }}
    />
  );
}
